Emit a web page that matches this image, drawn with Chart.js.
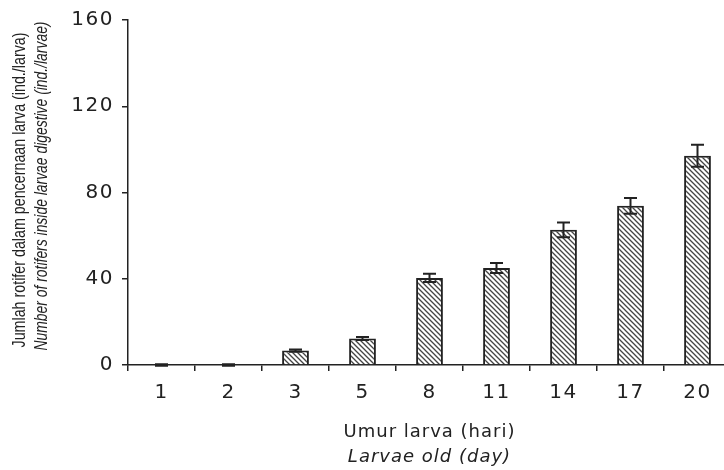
<!DOCTYPE html>
<html lang="en">
<head>
<meta charset="UTF-8">
<title>Rotifers in larval gut by age</title>
<script src="https://cdn.jsdelivr.net/npm/chart.js"></script>
<style>
  html, body { margin: 0; padding: 0; background: #fff; overflow: hidden; }
  .chart-box { position: relative; width: 731px; height: 470px; }
</style>
</head>
<body>
<div class="chart-box"><canvas id="rotiferChart"></canvas></div>
<script>
// Data
const dayLabels = ['1', '2', '3', '5', '8', '11', '14', '17', '20'];
const rotiferCounts = [0, 0, 6.7, 12.3, 40.4, 45.0, 62.7, 73.8, 97.1];
const rotiferErrors = [0.3, 0.3, 0.5, 0.7, 1.9, 2.3, 3.4, 3.7, 5.1];
const yTicks = [0, 40, 80, 120, 160];
const xTitleLines = ['Umur larva (hari)', 'Larvae old (day)'];
const yTitleLines = [
  'Jumlah rotifer dalam pencernaan larva (ind./larva)',
  'Number of rotifers inside larvae digestive (ind./larvae)'
];

const INK = '#222';
const TICK_FONT = { family: '"DejaVu Sans"', size: 20 };

// diagonal hatch fill for the bars
function makeHatch(ctx) {
  const c = document.createElement('canvas');
  c.width = 5; c.height = 5;
  const g = c.getContext('2d');
  g.fillStyle = '#fff';
  g.fillRect(0, 0, 5, 5);
  g.strokeStyle = '#444';
  g.lineWidth = 1.3;
  g.beginPath();
  g.moveTo(0, 0); g.lineTo(5, 5);
  g.moveTo(-1, 4); g.lineTo(1, 6);
  g.moveTo(4, -1); g.lineTo(6, 1);
  g.stroke();
  return ctx.createPattern(c, 'repeat');
}

// a little tracking on tick labels, like the original typeface
const tracking = {
  id: 'tracking',
  beforeLayout(chart) { chart.ctx.letterSpacing = '1.5px'; },
  beforeDraw(chart) { chart.ctx.letterSpacing = '1.5px'; }
};

// error bars drawn through the chart scales
const errorBars = {
  id: 'errorBars',
  afterDatasetsDraw(chart) {
    const { ctx, scales: { x, y } } = chart;
    ctx.save();
    ctx.strokeStyle = INK;
    ctx.lineWidth = 2;
    rotiferCounts.forEach((v, i) => {
      const cx = x.getPixelForValue(i);
      const top = y.getPixelForValue(v + rotiferErrors[i]);
      const bot = y.getPixelForValue(v - rotiferErrors[i]);
      ctx.beginPath();
      ctx.moveTo(cx, top); ctx.lineTo(cx, bot);
      ctx.moveTo(cx - 6.5, top); ctx.lineTo(cx + 6.5, top);
      ctx.moveTo(cx - 6.5, bot); ctx.lineTo(cx + 6.5, bot);
      ctx.stroke();
    });
    ctx.restore();
  }
};

// condensed, rotated y title line
function drawRotated(ctx, text, font, bx, cy, targetW) {
  ctx.font = font;
  const w = ctx.measureText(text).width;
  ctx.save();
  ctx.translate(bx, cy);
  ctx.rotate(-Math.PI / 2);
  ctx.scale(targetW / w, 1);
  ctx.textAlign = 'center';
  ctx.textBaseline = 'alphabetic';
  ctx.fillText(text, 0, 0);
  ctx.restore();
}

// two-style axis titles (normal + italic line)
const axisTitles = {
  id: 'axisTitles',
  afterDraw(chart) {
    const { ctx, chartArea } = chart;
    ctx.save();
    ctx.fillStyle = INK;
    const midX = (chartArea.left + chartArea.right) / 2;
    ctx.textAlign = 'center';
    ctx.textBaseline = 'middle';
    ctx.letterSpacing = '1px';
    ctx.font = '18px "DejaVu Sans"';
    ctx.fillText(xTitleLines[0], midX, 432);
    ctx.font = 'italic 18px "DejaVu Sans"';
    ctx.fillText(xTitleLines[1], midX, 457);

    ctx.letterSpacing = '0px';
    drawRotated(ctx, yTitleLines[0], '18px "Liberation Sans"', 25, 190, 315);
    drawRotated(ctx, yTitleLines[1], 'italic 18px "Liberation Sans"', 47, 186, 329);
    ctx.restore();
  }
};

const ctx = document.getElementById('rotiferChart').getContext('2d');

new Chart(ctx, {
  type: 'bar',
  data: {
    labels: dayLabels,
    datasets: [{
      data: rotiferCounts,
      backgroundColor: makeHatch(ctx),
      borderColor: INK,
      borderWidth: 2,
      barPercentage: 0.4,
      categoryPercentage: 1.0
    }]
  },
  options: {
    responsive: true,
    maintainAspectRatio: false,
    animation: false,
    layout: { padding: { top: 16, right: 0, left: 0, bottom: 0 } },
    plugins: {
      legend: { display: false },
      tooltip: { enabled: false }
    },
    scales: {
      x: {
        afterFit: s => { s.height = 105; },
        grid: { display: true, drawOnChartArea: false, drawTicks: true, tickLength: 6, color: INK, lineWidth: 1.5 },
        border: { display: true, color: INK, width: 1.5 },
        ticks: { color: INK, padding: 10, font: TICK_FONT }
      },
      y: {
        min: 0,
        max: 160,
        afterFit: s => { s.width = 128; },
        afterBuildTicks: s => { s.ticks = yTicks.map(v => ({ value: v })); },
        grid: { display: true, drawOnChartArea: false, drawTicks: true, tickLength: 6, color: INK, lineWidth: 1.5 },
        border: { display: true, color: INK, width: 1.5 },
        ticks: { color: INK, padding: 8, font: TICK_FONT }
      }
    }
  },
  plugins: [tracking, errorBars, axisTitles]
});
</script>
</body>
</html>
